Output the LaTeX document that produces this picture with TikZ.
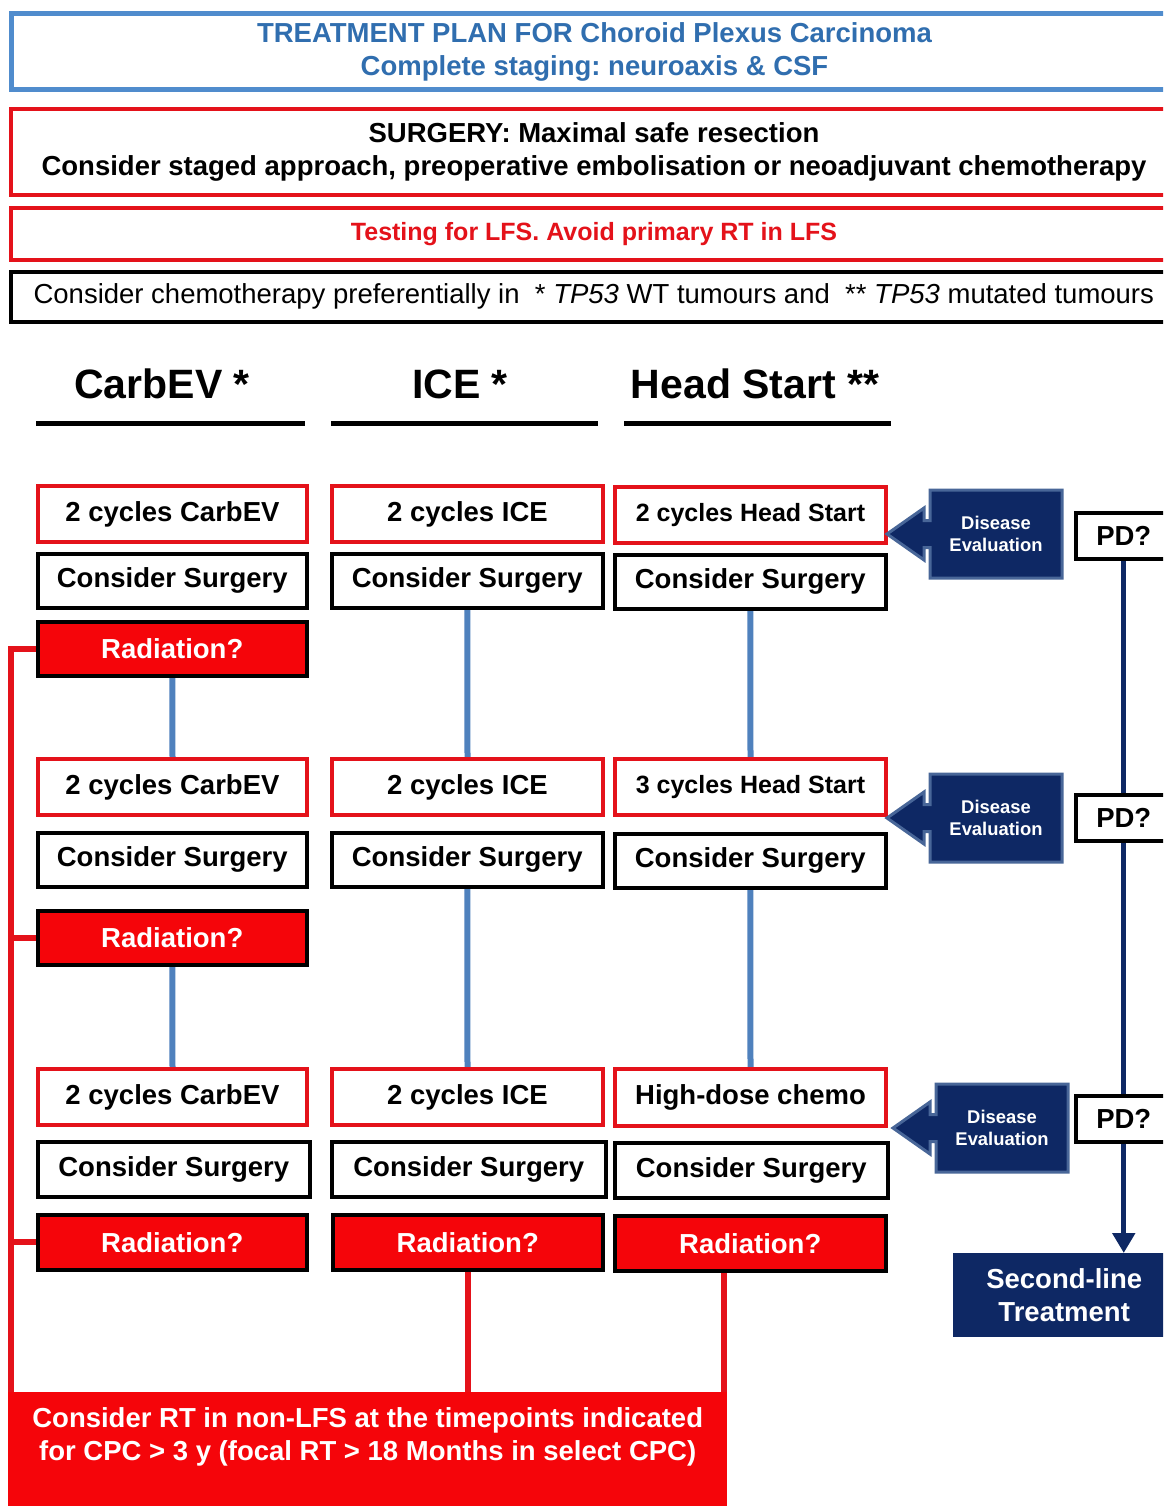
\documentclass[tikz,border=0pt]{standalone}
\usepackage{fontspec}
\setmainfont{Liberation Sans}
\usetikzlibrary{arrows.meta,backgrounds}
\definecolor{bred}{RGB}{228,18,26}
\definecolor{radred}{RGB}{245,5,10}
\definecolor{titleblue}{RGB}{80,140,205}
\definecolor{titletext}{RGB}{48,110,175}
\definecolor{linkblue}{RGB}{79,129,189}
\definecolor{navy}{RGB}{14,40,100}
\definecolor{navyedge}{RGB}{72,102,152}
\frenchspacing
\newcommand{\DisEval}[3]{%
  \begin{scope}[shift={(#2,#3)}]
    \draw[evalshape] (-43,44) -- (-6,18) -- (-6,30.5) -- (0,30.5) -- (0,0) -- (132,0) -- (132,88)
      -- (0,88) -- (0,57.5) -- (-6,57.5) -- (-6,70) -- cycle;
    \node[evaltext] (#1) at (66,44) {Disease\\Evaluation};
  \end{scope}}
\begin{document}
\begin{tikzpicture}[x=1pt,y=-1pt,
  fnt/.style={font=\fontsize{27.5}{33}\selectfont\bfseries},
  cell/.style={anchor=north west, inner sep=0pt, align=center, fnt, fill=white},
  redcell/.style={cell, draw=bred, line width=4pt},
  blkcell/.style={cell, draw=black, line width=3.5pt},
  radcell/.style={cell, draw=black, line width=3.5pt, fill=radred, text=white},
  bluelink/.style={draw=linkblue, line width=6pt},
  redlink/.style={draw=bred, line width=6pt},
  navylink/.style={draw=navy, line width=5pt},
  evalshape/.style={fill=navy, draw=navyedge, line width=3pt, line join=miter},
  evaltext/.style={text=white, align=center, inner sep=0pt, font=\fontsize{18.4}{22}\selectfont\bfseries},
  pdbox/.style={anchor=north west, inner sep=0pt, fnt, fill=white, draw=black, line width=3.5pt,
    minimum width=96pt, minimum height=46pt},
  header/.style={inner sep=0pt, font=\fontsize{41}{48}\selectfont\bfseries},
  wide/.style={anchor=north west, inner sep=0pt, align=center, minimum width=1166pt}
]
\clip (0,0) rectangle (1163,1506);

% top banners
\node[wide, draw=titleblue, line width=5pt, minimum height=76pt, text=titletext, fnt] (title) at (9,11)
  {TREATMENT PLAN FOR Choroid Plexus Carcinoma\\Complete staging: neuroaxis \& CSF};
\node[wide, draw=bred, line width=4pt, minimum height=86pt, fnt] (surgery) at (9,107)
  {SURGERY: Maximal safe resection\\Consider staged approach, preoperative embolisation or neoadjuvant chemotherapy};
\node[wide, draw=bred, line width=4pt, minimum height=52pt, text=bred,
  font=\fontsize{25}{30}\selectfont\bfseries] (lfs) at (9,206)
  {Testing for LFS. Avoid primary RT in LFS};
\node[wide, draw=black, line width=3.5pt, minimum height=50pt,
  font=\fontsize{27.5}{33}\selectfont] (chemo) at (9,270)
  {Consider chemotherapy preferentially in\ \ * \textit{TP53} WT tumours and\ \ ** \textit{TP53} mutated tumours};

% column headers
\node[header] (h1) at (162,384) {CarbEV *};
\node[header] (h2) at (460,384) {ICE *};
\node[header] (h3) at (755,384) {Head Start **};
\draw[line width=5pt] (36,423) -- (305,423);
\draw[line width=5pt] (331,423) -- (598,423);
\draw[line width=5pt] (624,423) -- (891,423);

% row 1
\node[redcell, minimum width=269pt, minimum height=56pt] (a1) at (36,484) {2 cycles CarbEV};
\node[redcell, minimum width=271pt, minimum height=56pt] (b1) at (330,484) {2 cycles ICE};
\node[redcell, minimum width=271pt, minimum height=56pt, font=\fontsize{25}{30}\selectfont\bfseries] (c1) at (613,485) {2 cycles Head Start};
\node[blkcell, minimum width=269pt, minimum height=54pt] (sa1) at (36,552) {Consider Surgery};
\node[blkcell, minimum width=271pt, minimum height=54pt] (sb1) at (330,552) {Consider Surgery};
\node[blkcell, minimum width=271pt, minimum height=54pt] (sc1) at (613,553) {Consider Surgery};
\node[radcell, minimum width=269pt, minimum height=54pt] (ra1) at (36,620) {Radiation?};

% row 2
\node[redcell, minimum width=269pt, minimum height=56pt] (a2) at (36,757) {2 cycles CarbEV};
\node[redcell, minimum width=271pt, minimum height=56pt] (b2) at (330,757) {2 cycles ICE};
\node[redcell, minimum width=271pt, minimum height=56pt, font=\fontsize{25}{30}\selectfont\bfseries] (c2) at (613,757) {3 cycles Head Start};
\node[blkcell, minimum width=269pt, minimum height=54pt] (sa2) at (36,831) {Consider Surgery};
\node[blkcell, minimum width=271pt, minimum height=54pt] (sb2) at (330,831) {Consider Surgery};
\node[blkcell, minimum width=271pt, minimum height=54pt] (sc2) at (613,832) {Consider Surgery};
\node[radcell, minimum width=269pt, minimum height=54pt] (ra2) at (36,909) {Radiation?};

% row 3
\node[redcell, minimum width=269pt, minimum height=56pt] (a3) at (36,1067) {2 cycles CarbEV};
\node[redcell, minimum width=271pt, minimum height=56pt] (b3) at (330,1067) {2 cycles ICE};
\node[redcell, minimum width=271pt, minimum height=57pt] (c3) at (613,1067) {High-dose chemo};
\node[blkcell, minimum width=272pt, minimum height=55pt] (sa3) at (36,1140) {Consider Surgery};
\node[blkcell, minimum width=274pt, minimum height=55pt] (sb3) at (330,1140) {Consider Surgery};
\node[blkcell, minimum width=273pt, minimum height=55pt] (sc3) at (613,1141) {Consider Surgery};
\node[radcell, minimum width=269pt, minimum height=55pt] (ra3) at (36,1213) {Radiation?};
\node[radcell, minimum width=270pt, minimum height=55pt] (rb3) at (331,1213) {Radiation?};
\node[radcell, minimum width=271pt, minimum height=55pt] (rc3) at (613,1214) {Radiation?};

% bottom red box
\node[anchor=north west, inner sep=0pt, fill=radred, minimum width=719pt, minimum height=90pt,
  text=white, align=center, fnt] (bottom) at (8,1392)
  {Consider RT in non-LFS at the timepoints indicated\\for CPC > 3 y (focal RT > 18 Months in select CPC)};
\fill[radred] (bottom.south west) rectangle ([yshift=-40pt]bottom.south east);

% disease evaluation call-outs
\DisEval{de1}{930}{490}
\DisEval{de2}{930}{774}
\DisEval{de3}{936}{1084}

% PD? boxes and second line
\node[pdbox] (pd1) at (1074,511) {PD?};
\node[pdbox] (pd2) at (1074,793) {PD?};
\node[pdbox] (pd3) at (1074,1094) {PD?};
\node[anchor=north west, inner sep=0pt, fill=navy, text=white, minimum width=222pt, minimum height=84pt,
  align=center, fnt] (second) at (953,1253) {Second-line\\Treatment};

\begin{scope}[on background layer]
  \fill[white] (0,0) rectangle (1163,1506);
  % blue links
  \draw[bluelink] (ra1.south) -- (a2.north);
  \draw[bluelink] (sb1.south) -- (b2.north);
  \draw[bluelink] (sc1.south) -- (c2.north);
  \draw[bluelink] (ra2.south) -- (a3.north);
  \draw[bluelink] (sb2.south) -- (b3.north);
  \draw[bluelink] (sc2.south) -- (c3.north);
  % red links
  \coordinate (L) at (11,0);
  \draw[redlink] (ra1.west) -- (ra1.west -| L) -- (bottom.north -| L);
  \draw[redlink] (ra2.west) -- (ra2.west -| L);
  \draw[redlink] (ra3.west) -- (ra3.west -| L);
  \draw[redlink] (rb3.south) -- (rb3.south |- bottom.north);
  \draw[redlink] ([xshift=-3pt]bottom.north east |- rc3.south) -- ([xshift=-3pt]bottom.north east);
  % navy links
  \draw[navylink] (pd1.south) -- (pd2.north);
  \draw[navylink] (pd2.south) -- (pd3.north);
\end{scope}
\draw[navylink, -{Triangle[width=22pt,length=20pt]}] (pd3.south) -- (pd3.south |- second.north);
\end{tikzpicture}
\end{document}
